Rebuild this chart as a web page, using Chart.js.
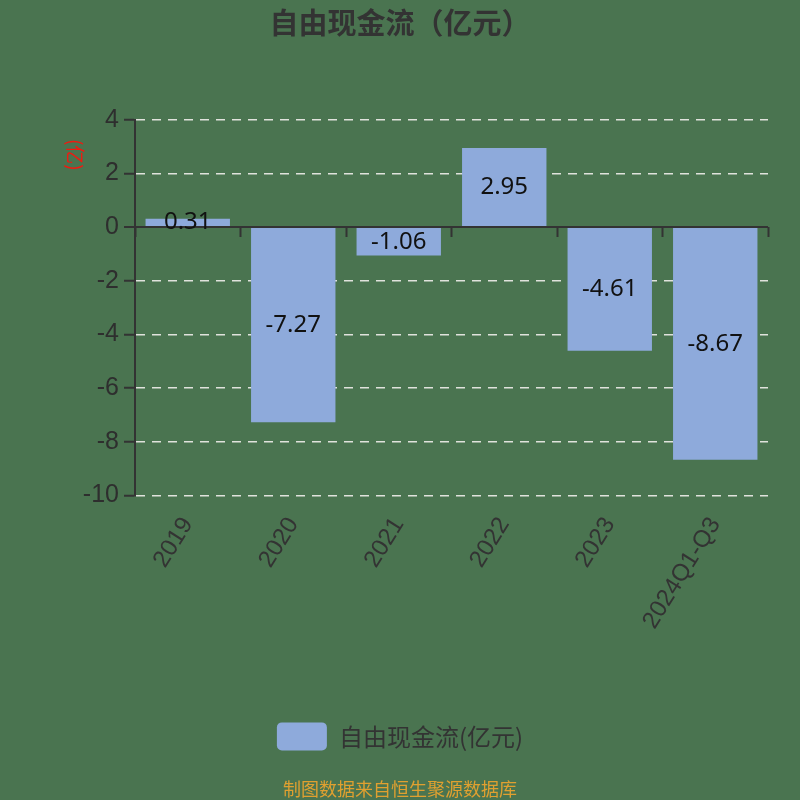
<!DOCTYPE html>
<html>
<head>
<meta charset="utf-8">
<title>自由现金流</title>
<script src="https://cdn.jsdelivr.net/npm/chart.js@4.4.0/dist/chart.umd.min.js"></script>
<style>
  html, body { margin: 0; padding: 0; background: #4a7450; }
  #wrap { width: 800px; height: 800px; }
</style>
</head>
<body>
<div id="wrap"><canvas id="canvasCash" width="800" height="800"></canvas></div>
<script>
"use strict";

// data
var categories = ['2019', '2020', '2021', '2022', '2023', '2024Q1-Q3'];
var cashValues = [0.31, -7.27, -1.06, 2.95, -4.61, -8.67];
var yTicks = [4, 2, 0, -2, -4, -6, -8, -10];
var seriesName = '自由现金流(亿元)';

var bgColor = '#4a7450';
var barColor = '#8eaadb';
var textColor = '#333333';

// background fill
var bgPlugin = {
	id: 'bgFill',
	beforeDraw: function (chart) {
		var ctx = chart.ctx;
		ctx.save();
		ctx.fillStyle = bgColor;
		ctx.fillRect(0, 0, chart.width, chart.height);
		ctx.restore();
	}
};

// value labels in the middle of each bar
var valueLabels = {
	id: 'valueLabels',
	afterDatasetsDraw: function (chart) {
		var ctx = chart.ctx;
		var meta = chart.getDatasetMeta(0);
		ctx.save();
		ctx.font = '24px "Noto Sans", sans-serif';
		ctx.fillStyle = '#111';
		ctx.textAlign = 'center';
		ctx.textBaseline = 'middle';
		meta.data.forEach(function (bar, i) {
			ctx.fillText(cashValues[i].toFixed(2), bar.x, (bar.y + bar.base) / 2);
		});
		ctx.restore();
	}
};

// unit label on the left, rotated clockwise
var unitLabel = {
	id: 'unitLabel',
	afterDraw: function (chart) {
		var y = chart.scales.y;
		var ctx = chart.ctx;
		ctx.save();
		ctx.translate(y.right - 60, y.top + 35);
		ctx.rotate(Math.PI / 2);
		ctx.font = '19px "Noto Sans CJK SC", sans-serif';
		ctx.fillStyle = '#f01a10';
		ctx.textAlign = 'center';
		ctx.textBaseline = 'middle';
		ctx.fillText('(亿)', 0, 0);
		ctx.restore();
	}
};

function isZero(c) {
	return c.tick && c.tick.value === 0;
}

const context = document.getElementById('canvasCash');
const myChart = new Chart(context, {
	type: 'bar',
	data: {
		labels: categories,
		datasets: [{
			label: seriesName,
			data: cashValues,
			backgroundColor: barColor,
			borderWidth: 0,
			barPercentage: 0.8,
			categoryPercentage: 1.0
		}]
	},
	plugins: [bgPlugin, valueLabels, unitLabel],
	options: {
		responsive: false,
		animation: false,
		layout: {
			padding: { left: 32, right: 32, top: 0, bottom: 0 }
		},
		scales: {
			x: {
				type: 'category',
				position: 'bottom',
				grid: { display: false },
				border: { display: false },
				ticks: {
					color: textColor,
					font: { family: '"Liberation Sans", Arial, sans-serif', size: 24 },
					minRotation: 58,
					maxRotation: 58,
					padding: 9
				},
				afterFit: function (scale) {
					scale.height = 217;
				}
			},
			x2: {
				type: 'category',
				axis: 'x',
				labels: categories,
				position: { y: 0 },
				offset: true,
				grid: {
					display: true,
					drawOnChartArea: false,
					drawTicks: true,
					tickLength: 10,
					tickColor: textColor,
					tickWidth: 2,
					offset: true
				},
				border: { display: false },
				ticks: { display: false }
			},
			y: {
				min: -10,
				max: 4,
				afterBuildTicks: function (scale) {
					scale.ticks = yTicks.map(function (v) { return { value: v }; });
				},
				afterFit: function (scale) {
					scale.width = 103;
				},
				ticks: {
					color: '#2e2e2e',
					font: { family: '"Liberation Sans", Arial, sans-serif', size: 25 },
					padding: 5
				},
				grid: {
					color: function (c) { return isZero(c) ? textColor : 'rgba(232,232,228,0.95)'; },
					lineWidth: function (c) { return isZero(c) ? 2 : 1.5; },
					tickLength: 11,
					tickColor: textColor,
					tickWidth: 2,
					tickBorderDash: []
				},
				border: {
					display: true,
					color: textColor,
					width: 2,
					dash: function (c) { return isZero(c) ? [] : [9, 7]; }
				}
			}
		},
		plugins: {
			title: {
				display: true,
				text: '自由现金流（亿元）',
				color: textColor,
				font: { family: '"Noto Sans CJK SC", sans-serif', size: 29, weight: 'bold' },
				padding: { top: 6, bottom: 79 }
			},
			subtitle: {
				display: true,
				position: 'bottom',
				text: '制图数据来自恒生聚源数据库',
				color: '#e0a030',
				font: { family: '"Noto Sans CJK SC", sans-serif', size: 18 },
				padding: { top: 18, bottom: 0 }
			},
			legend: {
				display: true,
				position: 'bottom',
				labels: {
					color: textColor,
					font: { family: '"Noto Sans CJK SC", sans-serif', size: 24 },
					boxWidth: 50,
					boxHeight: 28,
					useBorderRadius: true,
					borderRadius: 5,
					padding: 10
				}
			},
			tooltip: { enabled: false }
		}
	}
});
</script>
</body>
</html>
